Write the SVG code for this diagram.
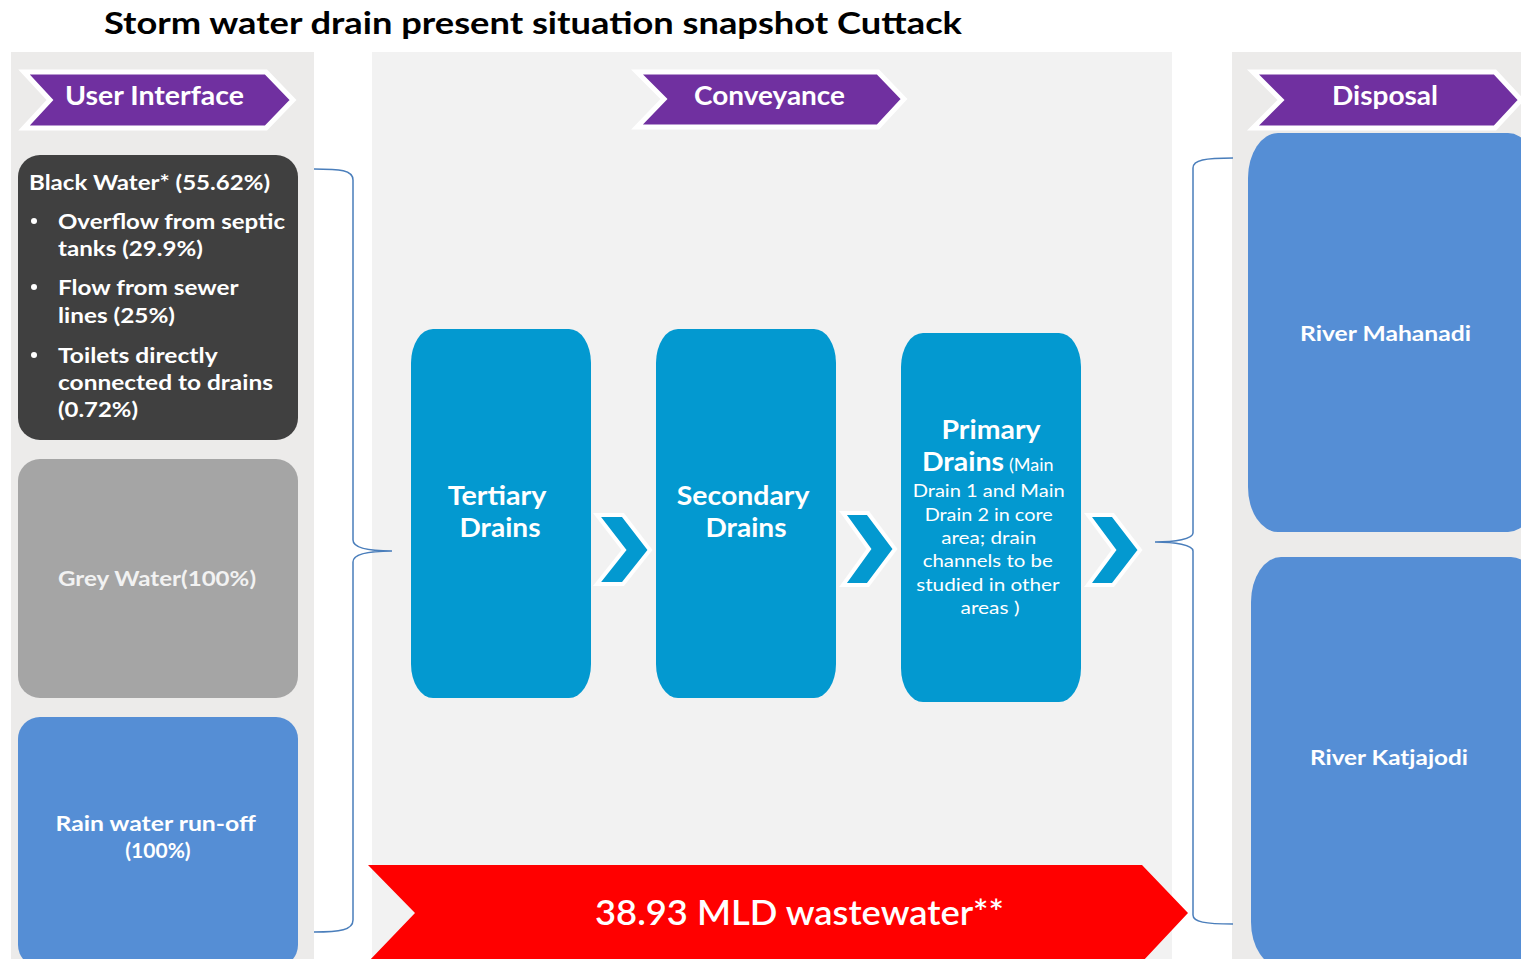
<svg xmlns="http://www.w3.org/2000/svg" width="1521" height="959" viewBox="0 0 1521 959">
<style>
.t{font-family:Lato,"Open Sans","Liberation Sans",sans-serif;fill:#fff;}
.b{font-weight:bold;}
.hdr{fill:#7030A0;stroke:#fff;stroke-width:5;stroke-linejoin:miter;}
.drain{fill:#0399D0;}
.river{fill:#558ED5;}
.chev{fill:#0399D0;stroke:#fff;stroke-width:4;}
.brace{fill:none;stroke:#4A7EBB;stroke-width:1.5;}
</style>
<rect width="1521" height="959" fill="#fff"/>
<!-- panels -->
<rect x="11" y="52" width="303" height="907" fill="#ECEBEA"/>
<rect x="372" y="52" width="800" height="907" fill="#F2F2F2"/>
<rect x="1232" y="52" width="289" height="907" fill="#ECEBEA"/>

<text class="t b" x="104" y="34" font-size="31" style="fill:#000" textLength="858" lengthAdjust="spacingAndGlyphs">Storm water drain present situation snapshot Cuttack</text>

<g id="hdr-user">
<polygon class="hdr" points="24,72 266,72 293,100 266,128 24,128 50,100"/>
<text class="t b" x="65" y="105" font-size="27" textLength="179" lengthAdjust="spacingAndGlyphs">User Interface</text>
</g>
<g id="hdr-conveyance">
<polygon class="hdr" points="637,72 878,72 904,99 878,127 637,127 664,99"/>
<text class="t b" x="694" y="105" font-size="27" textLength="151" lengthAdjust="spacingAndGlyphs">Conveyance</text>
</g>
<g id="hdr-disposal">
<polygon class="hdr" points="1253,72 1495,72 1521,100 1495,128 1253,128 1281,100"/>
<text class="t b" x="1332" y="105" font-size="27" textLength="106" lengthAdjust="spacingAndGlyphs">Disposal</text>
</g>

<g id="black-water">
<rect x="18" y="155" width="280" height="285" rx="22" fill="#404040"/>
<text class="t b" font-size="21">
<tspan x="29" y="190" textLength="241" lengthAdjust="spacingAndGlyphs">Black Water* (55.62%)</tspan>
<tspan x="58" y="229" textLength="227" lengthAdjust="spacingAndGlyphs">Overflow from septic</tspan>
<tspan x="58" y="256" textLength="145" lengthAdjust="spacingAndGlyphs">tanks (29.9%)</tspan>
<tspan x="58" y="295" textLength="180" lengthAdjust="spacingAndGlyphs">Flow from sewer</tspan>
<tspan x="58" y="323" textLength="117" lengthAdjust="spacingAndGlyphs">lines (25%)</tspan>
<tspan x="58" y="363" textLength="159" lengthAdjust="spacingAndGlyphs">Toilets directly</tspan>
<tspan x="58" y="390" textLength="215" lengthAdjust="spacingAndGlyphs">connected to drains</tspan>
<tspan x="58" y="417" textLength="80" lengthAdjust="spacingAndGlyphs">(0.72%)</tspan>
</text>
<circle cx="34" cy="221" r="3" fill="#fff"/>
<circle cx="34" cy="287" r="3" fill="#fff"/>
<circle cx="34" cy="355" r="3" fill="#fff"/>
</g>

<g id="grey-water">
<rect x="18" y="459" width="280" height="239" rx="22" fill="#A5A5A5"/>
<text class="t b" x="58" y="586" font-size="21" style="fill:#F2F2F2" textLength="198" lengthAdjust="spacingAndGlyphs">Grey Water(100%)</text>
</g>

<g id="rain-water">
<rect x="18" y="717" width="280" height="250" rx="22" class="river"/>
<text class="t b" font-size="21" text-anchor="middle">
<tspan x="158" y="831" textLength="200" lengthAdjust="spacingAndGlyphs">Rain water run-off</tspan>
<tspan x="158" y="858">(100%)</tspan>
</text>
</g>

<g id="tertiary">
<rect x="411" y="329" width="180" height="369" rx="22" ry="34" class="drain"/>
<text class="t b" font-size="27" text-anchor="middle">
<tspan x="500" y="505" textLength="98" lengthAdjust="spacingAndGlyphs">Tertiary</tspan>
<tspan x="500" y="537" textLength="81" lengthAdjust="spacingAndGlyphs">Drains</tspan>
</text>
</g>

<g id="secondary">
<rect x="656" y="329" width="180" height="369" rx="22" ry="34" class="drain"/>
<text class="t b" font-size="27" text-anchor="middle">
<tspan x="746" y="505" textLength="132" lengthAdjust="spacingAndGlyphs">Secondary</tspan>
<tspan x="746" y="537" textLength="81" lengthAdjust="spacingAndGlyphs">Drains</tspan>
</text>
</g>

<g id="primary">
<rect x="901" y="333" width="180" height="369" rx="22" ry="34" class="drain"/>
<text class="t b" font-size="27" text-anchor="middle"><tspan x="991" y="439" textLength="99" lengthAdjust="spacingAndGlyphs">Primary</tspan></text>
<text class="t b" y="471" font-size="27"><tspan x="922" textLength="82" lengthAdjust="spacingAndGlyphs">Drains</tspan><tspan font-size="18" font-weight="normal" dx="5">(Main</tspan></text>
<text class="t" font-size="18" text-anchor="middle">
<tspan x="991" y="497" textLength="152" lengthAdjust="spacingAndGlyphs">Drain 1 and Main</tspan>
<tspan x="991" y="521" textLength="128" lengthAdjust="spacingAndGlyphs">Drain 2 in core</tspan>
<tspan x="991" y="544" textLength="95" lengthAdjust="spacingAndGlyphs">area; drain</tspan>
<tspan x="990" y="567" textLength="130" lengthAdjust="spacingAndGlyphs">channels to be</tspan>
<tspan x="990" y="591" textLength="143" lengthAdjust="spacingAndGlyphs">studied in other</tspan>
<tspan x="990" y="614" textLength="59" lengthAdjust="spacingAndGlyphs">areas )</tspan>
</text>
</g>

<g id="river-mahanadi">
<rect x="1248" y="133" width="290" height="399" rx="30" ry="45" class="river"/>
<text class="t b" x="1300" y="341" font-size="21" textLength="171" lengthAdjust="spacingAndGlyphs">River Mahanadi</text>
</g>

<g id="river-katjajodi">
<rect x="1251" y="557" width="290" height="410" rx="30" ry="45" class="river"/>
<text class="t b" x="1310" y="765" font-size="21" textLength="158" lengthAdjust="spacingAndGlyphs">River Katjajodi</text>
</g>

<g id="wastewater">
<polygon points="368,865 1142,865 1188,913 1142,962 368,962 415,913" fill="#FF0000"/>
<text class="t" x="595" y="925" font-size="34" font-weight="600" textLength="409" lengthAdjust="spacingAndGlyphs">38.93 MLD wastewater**</text>
</g>

<g id="connectors">
<path class="brace" d="M314,169 C340,169 353,170 353,180 L353,540 C353,548 370,551 392,551 C370,551 353,554 353,562 L353,920 C353,930 340,932 314,932"/>
<path class="brace" d="M1233,158 C1205,158 1193,160 1193,168 L1193,533 C1193,539 1175,542 1155,542 C1175,542 1193,545 1193,551 L1193,915 C1193,922 1205,924 1233,924"/>
<path class="chev" d="M597,515 L623,515 L650,550 L623,584 L597,584 L624,550 Z"/>
<path class="chev" d="M843,513 L868,513 L895,549 L868,585 L843,585 L869,549 Z"/>
<path class="chev" d="M1088,515 L1113,515 L1140,550 L1113,585 L1088,585 L1114,550 Z"/>
</g>
</svg>
